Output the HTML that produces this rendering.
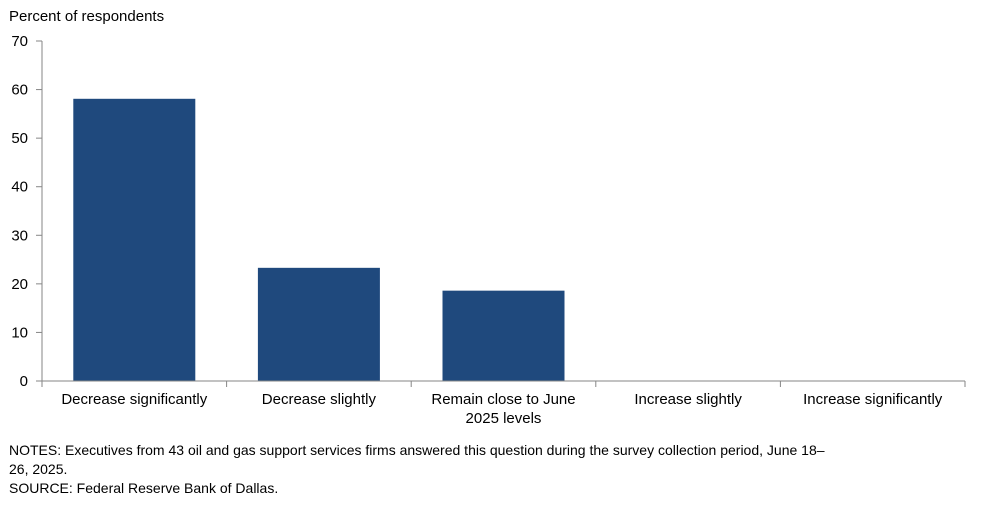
<!DOCTYPE html>
<html><head><meta charset="utf-8"><style>
body{margin:0;background:#fff;}
svg text{font-family:"Liberation Sans",Arial,sans-serif;fill:#000;}
</style></head><body>
<svg width="998" height="506" viewBox="0 0 998 506">
<text x="9" y="21" font-size="15">Percent of respondents</text>
<g id="yaxis"></g><g id="bars"></g><g id="xaxis"></g>
<text x="9" y="455" font-size="14">NOTES:  Executives from 43 oil and gas support services firms answered this question during the survey collection period, June 18–</text>
<text x="9" y="474" font-size="14">26, 2025.</text>
<text x="9" y="493" font-size="14">SOURCE:  Federal Reserve Bank of Dallas.</text>
</svg>
<script>
const categories=[["Decrease significantly"],["Decrease slightly"],["Remain close to June","2025 levels"],["Increase slightly"],["Increase significantly"]];
const values=[58.1,23.3,18.6,0,0];
const yTicks=[0,10,20,30,40,50,60,70];
const NS="http://www.w3.org/2000/svg";
const x0=42,x1=965,y0=381,yTop=41,yMax=70;
const y=v=>y0-(v/yMax)*(y0-yTop);
const band=(x1-x0)/categories.length;
function mk(t,a,p){const e=document.createElementNS(NS,t);for(const k in a)e.setAttribute(k,a[k]);p.appendChild(e);return e;}
const ya=document.getElementById('yaxis'),ba=document.getElementById('bars'),xa=document.getElementById('xaxis');
let l=mk('line',{x1:x0,y1:yTop,x2:x0,y2:y0,stroke:'#868686'},ya);


yTicks.forEach(t=>{
 const tk=mk('line',{x1:x0-6,x2:x0,y1:y(t),y2:y(t),stroke:'#868686'},ya);
 
 
 const tx=mk('text',{x:x0-14,y:y(t)+5,'font-size':15,'text-anchor':'end'},ya);
 tx.textContent=t;
 
 
});
l=mk('line',{x1:x0,y1:y0,x2:x1,y2:y0,stroke:'#868686'},xa);


for(let i=0;i<=categories.length;i++){
 const tk=mk('line',{x1:x0+i*band,x2:x0+i*band,y1:y0,y2:y0+6,stroke:'#868686'},xa);
 
 
}
const bw=122;
categories.forEach((c,i)=>{
 const cx=x0+band*(i+0.5);
 const r=mk('rect',{x:cx-bw/2,y:y(values[i]),width:bw,height:y0-y(values[i]),fill:'#1f497d'},ba);
 
 
 c.forEach((line,j)=>{
  const tx=mk('text',{x:cx,y:404+j*19,'font-size':15,'text-anchor':'middle'},xa);
  tx.textContent=line;
  
  
 });
});
</script>
</body></html>
